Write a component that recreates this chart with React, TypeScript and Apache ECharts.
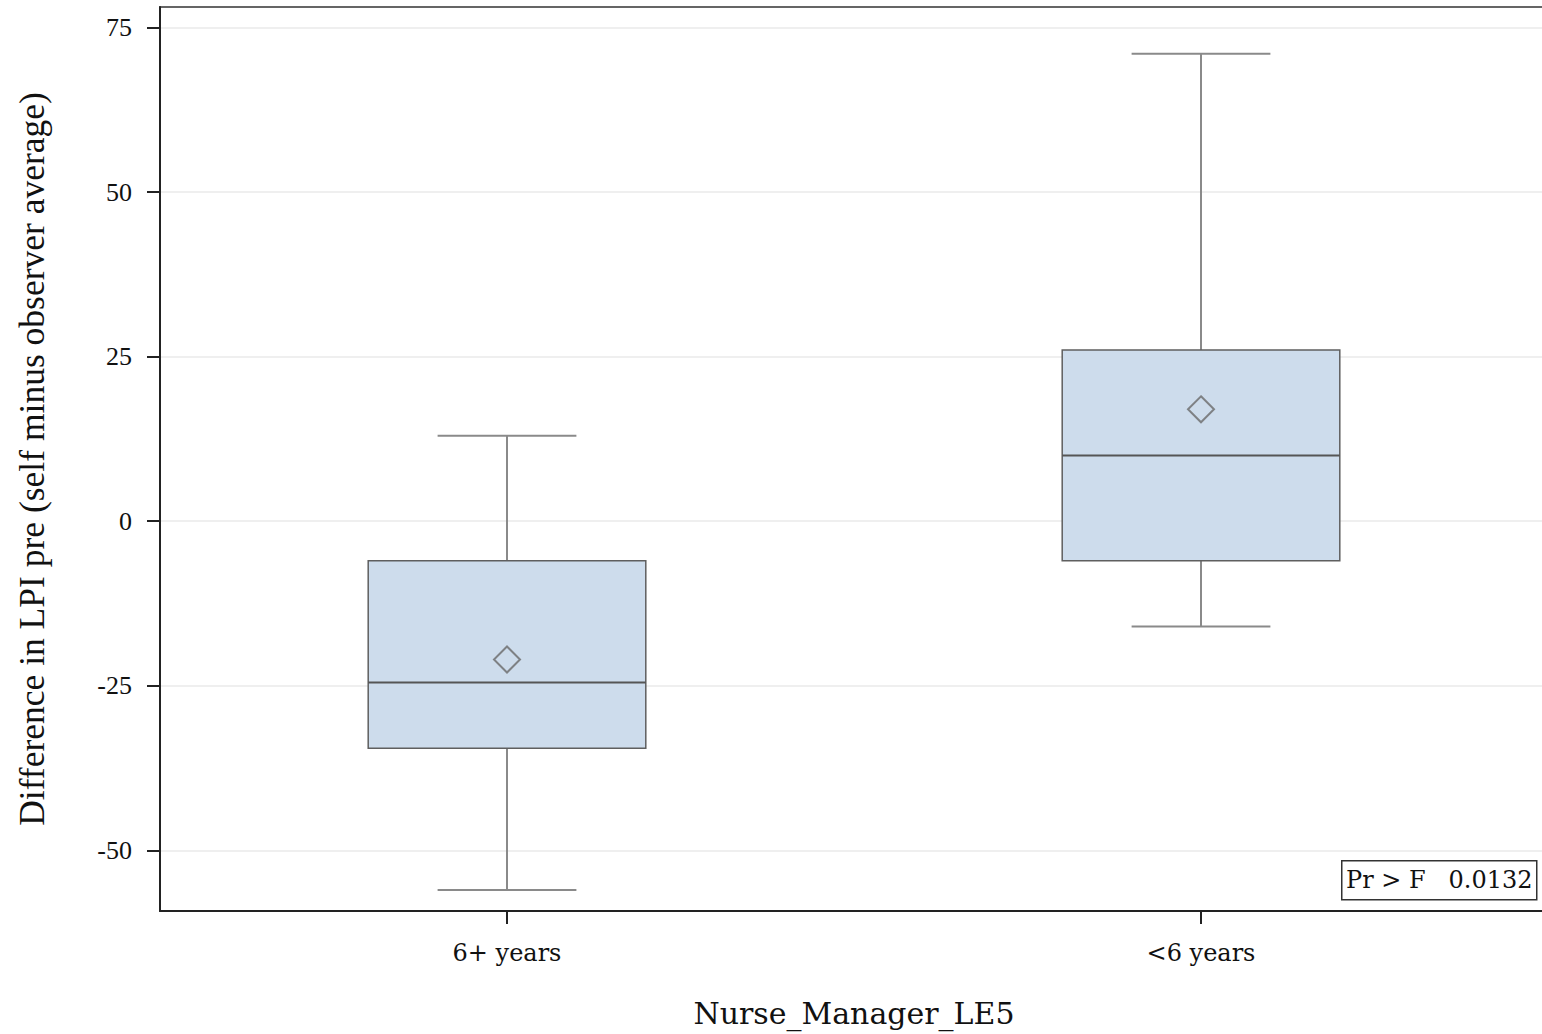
import React, { useEffect, useRef } from "react";
import * as echarts from "echarts";

const categories = ["6+ years", "<6 years"];
const whiskerLow = [-56, -16];
const q1 = [-34.5, -6];
const median = [-24.5, 10];
const q3 = [-6, 26];
const whiskerHigh = [13, 71];
const means = [-21, 17];
const yTicks = [-50, -25, 0, 25, 50, 75];
const yMin = -59.2;
const yMax = 78.1;
const statText = "Pr > F   0.0132";

const SERIF = "'Liberation Serif', 'DejaVu Serif', serif";
const WIDE_SERIF = "'DejaVu Serif', 'Liberation Serif', serif";

export default function App() {
  const ref = useRef<HTMLDivElement>(null);
  useEffect(() => {
    if (!ref.current) return;
    const chart = echarts.init(ref.current, null, { renderer: "svg" });
    const boxData = categories.map((_, i) => [i, whiskerLow[i], q1[i], median[i], q3[i], whiskerHigh[i]]);
    chart.setOption({
      animation: false,
      backgroundColor: "#ffffff",
      grid: {
        left: 160,
        right: -6,
        top: 7,
        bottom: 123,
        outerBoundsMode: "none",
        containLabel: false,
        show: true,
        borderColor: "#333",
        borderWidth: 1.5,
        backgroundColor: "transparent",
      },
      xAxis: {
        type: "category",
        data: categories,
        boundaryGap: true,
        name: "Nurse_Manager_LE5",
        nameLocation: "middle",
        nameGap: 87,
        nameTextStyle: { fontFamily: WIDE_SERIF, fontSize: 30, color: "#111" },
        axisLine: { show: true, onZero: false, lineStyle: { color: "#222", width: 2 } },
        axisTick: { show: true, alignWithLabel: true, length: 13, lineStyle: { color: "#222", width: 2 } },
        axisLabel: { fontFamily: WIDE_SERIF, fontSize: 24, color: "#111", margin: 30 },
        splitLine: { show: false },
      },
      yAxis: {
        type: "value",
        min: yMin,
        max: yMax,
        name: "Difference in LPI pre (self minus observer average)",
        nameLocation: "middle",
        nameGap: 110,
        nameRotate: 90,
        nameTextStyle: { fontFamily: SERIF, fontSize: 35.5, color: "#111" },
        axisLine: { show: true, onZero: false, lineStyle: { color: "#222", width: 2 } },
        axisTick: { show: true, length: 13, lineStyle: { color: "#222", width: 2 }, customValues: yTicks },
        axisLabel: { fontFamily: SERIF, fontSize: 26, color: "#111", margin: 28, customValues: yTicks },
        splitLine: { show: true, lineStyle: { color: "#efefef", width: 2 } },
      },
      series: [
        {
          type: "custom",
          name: "box",
          data: boxData,
          encode: { x: 0, y: [1, 2, 3, 4, 5] },
          renderItem: (params: any, api: any) => {
            const idx = api.value(0);
            const lo = api.coord([idx, api.value(1)]);
            const b1 = api.coord([idx, api.value(2)]);
            const md = api.coord([idx, api.value(3)]);
            const b3 = api.coord([idx, api.value(4)]);
            const hi = api.coord([idx, api.value(5)]);
            const bw = api.size([1, 0])[0] * 0.4;
            const cx = lo[0];
            const cw = bw / 2;
            const whiskerStyle = { stroke: "#8a8a8a", lineWidth: 2 };
            return {
              type: "group",
              children: [
                { type: "line", shape: { x1: cx, y1: b3[1], x2: cx, y2: hi[1] }, style: whiskerStyle },
                { type: "line", shape: { x1: cx, y1: b1[1], x2: cx, y2: lo[1] }, style: whiskerStyle },
                { type: "line", shape: { x1: cx - cw / 2, y1: hi[1], x2: cx + cw / 2, y2: hi[1] }, style: whiskerStyle },
                { type: "line", shape: { x1: cx - cw / 2, y1: lo[1], x2: cx + cw / 2, y2: lo[1] }, style: whiskerStyle },
                {
                  type: "rect",
                  shape: { x: cx - bw / 2, y: b3[1], width: bw, height: b1[1] - b3[1] },
                  style: { fill: "#cddcec", stroke: "#5f5f5f", lineWidth: 1.5 },
                },
                {
                  type: "line",
                  shape: { x1: cx - bw / 2, y1: md[1], x2: cx + bw / 2, y2: md[1] },
                  style: { stroke: "#555", lineWidth: 2 },
                },
              ],
            };
          },
          z: 3,
        },
        {
          type: "scatter",
          name: "mean",
          data: categories.map((_, i) => [i, means[i]]),
          symbol: "diamond",
          symbolSize: [26, 26],
          itemStyle: { color: "rgba(0,0,0,0)", borderColor: "#6a6a6a", borderWidth: 2 },
          z: 4,
        },
      ],
      graphic: [
        {
          type: "group",
          left: 1341,
          top: 860,
          z: 10,
          children: [
            {
              type: "rect",
              shape: { x: 0, y: 0, width: 195, height: 39 },
              style: { fill: "#fff", stroke: "#333", lineWidth: 1.5 },
            },
            {
              type: "text",
              x: 97.5,
              y: 19.5,
              style: {
                text: statText,
                fontFamily: WIDE_SERIF,
                fontSize: 24,
                fill: "#111",
                align: "center",
                verticalAlign: "middle",
              },
            },
          ],
        },
      ],
    });
    return () => chart.dispose();
  }, []);
  return (
    <div
      ref={ref}
      style={{ position: "fixed", left: 0, top: 0, width: 1542, height: 1034, background: "#fff" }}
    />
  );
}
